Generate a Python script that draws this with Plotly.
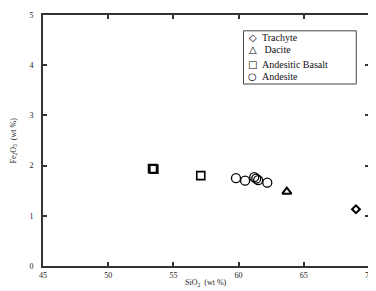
import plotly.graph_objects as go

# Data
trachyte_sio2 = [69.0]
trachyte_fe2o3 = [1.13]
dacite_sio2 = [63.7]
dacite_fe2o3 = [1.48]
basalt_sio2 = [53.4, 53.5, 57.1]
basalt_fe2o3 = [1.94, 1.93, 1.80]
andesite_sio2 = [59.8, 60.5, 61.2, 61.35, 61.5, 62.2]
andesite_fe2o3 = [1.75, 1.70, 1.77, 1.74, 1.71, 1.66]

x_ticks = [45, 50, 55, 60, 65, 70]
y_ticks = [0, 1, 2, 3, 4, 5]

legend_names = ["Trachyte", " Dacite", "Andesitic Basalt", "Andesite"]
legend_symbols = ["◇", "△", "□", "○"]

FONT = "Liberation Serif, Times New Roman, serif"

fig = go.Figure()
fig.add_trace(go.Scatter(x=trachyte_sio2, y=trachyte_fe2o3, mode="markers", name=legend_names[0],
                         marker=dict(symbol="diamond-open", size=6, color="black", line=dict(width=2))))
fig.add_trace(go.Scatter(x=dacite_sio2, y=dacite_fe2o3, mode="markers", name=legend_names[1],
                         marker=dict(symbol="triangle-up-open", size=8, color="black", line=dict(width=2))))
fig.add_trace(go.Scatter(x=basalt_sio2, y=basalt_fe2o3, mode="markers", name=legend_names[2],
                         marker=dict(symbol="square-open", size=8, color="black", line=dict(width=1.6))))
fig.add_trace(go.Scatter(x=andesite_sio2, y=andesite_fe2o3, mode="markers", name=legend_names[3],
                         marker=dict(symbol="circle-open", size=9, color="black", line=dict(width=1.3))))

axis_common = dict(
    showgrid=False, zeroline=False, showline=True, linecolor="#333", linewidth=2,
    mirror="ticks", ticks="inside", ticklen=4, tickwidth=1.5, tickcolor="#333",
    tickfont=dict(family=FONT, size=8, color="#222"),
)
fig.update_xaxes(range=[45, 70], tickvals=x_ticks, ticktext=[str(v) for v in x_ticks], **axis_common)
fig.update_yaxes(range=[0, 5], tickvals=y_ticks, ticktext=[str(v) for v in y_ticks],
                 ticklabelstandoff=6, **axis_common)

fig.add_annotation(text="SiO<sub>2</sub>  (wt %)", xref="paper", yref="paper", x=0.5, y=0,
                   yshift=-17, showarrow=False, yanchor="middle",
                   font=dict(family=FONT, size=8, color="#222"))
fig.add_annotation(text="Fe<sub>2</sub>O<sub>3</sub>  (wt %)", xref="paper", yref="paper", x=0, y=0.5,
                   xshift=-30, showarrow=False, textangle=-90, xanchor="center",
                   font=dict(family=FONT, size=8, color="#222"))

# Hand-drawn legend box (compact, like the reference)
fig.add_shape(type="rect", xref="paper", yref="paper", x0=0.615, x1=0.961, y0=0.725, y1=0.937,
              line=dict(color="#444", width=1), fillcolor="white", layer="above")
row_y = [0.910, 0.863, 0.804, 0.753]
for name, sym, yy in zip(legend_names, legend_symbols, row_y):
    fig.add_annotation(text=sym, xref="paper", yref="paper", x=0.644, y=yy,
                       showarrow=False, xanchor="center", yanchor="middle",
                       font=dict(family="DejaVu Sans", size=10, color="black", weight="bold"))
    fig.add_annotation(text=name, xref="paper", yref="paper", x=0.667, y=yy,
                       showarrow=False, xanchor="left", yanchor="middle",
                       font=dict(family=FONT, size=10, color="#111"))

fig.update_layout(
    width=368, height=283,
    margin=dict(l=35, r=3, t=3, b=25),
    plot_bgcolor="white", paper_bgcolor="white",
    showlegend=False,
)

fig.write_html("out.html")
